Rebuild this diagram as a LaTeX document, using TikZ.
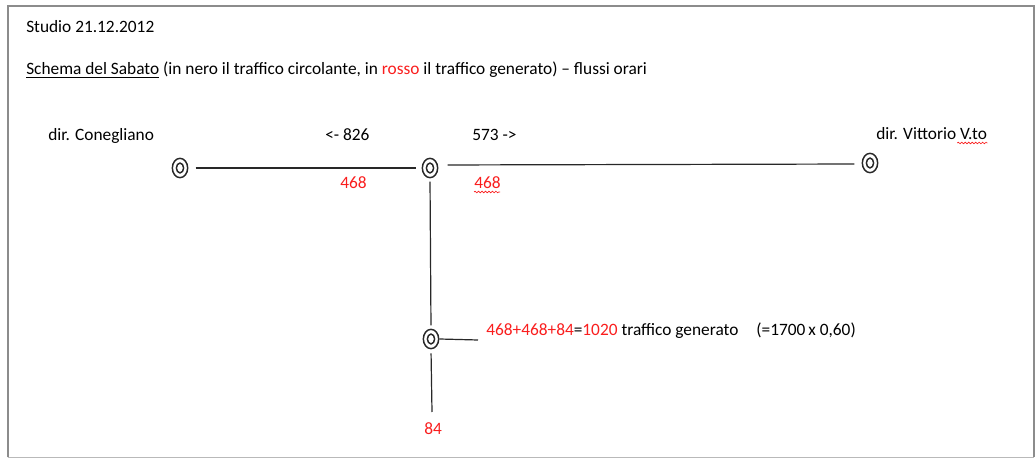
\documentclass[tikz,border=0pt]{standalone}
\usepackage{fontspec}
\setmainfont{Carlito}
\usetikzlibrary{shapes.geometric,decorations.pathmorphing,calc}
\definecolor{rosso}{RGB}{250,30,30}
\definecolor{framegray}{RGB}{140,140,140}
\definecolor{framelight}{RGB}{185,185,185}
\definecolor{inkline}{RGB}{40,40,40}
\begin{document}
\begin{tikzpicture}[x=0.75pt,y=-0.75pt,
  txt/.style={anchor=base west,inner sep=0pt,font=\fontsize{13}{15}\selectfont,text=black},
  red/.style={txt,text=rosso},
  ring/.style={ellipse,draw=inkline,line width=1.1pt,minimum width=11.5pt,minimum height=14.5pt,inner sep=0pt,
    path picture={\draw[inkline,line width=1.1pt] (path picture bounding box.center) ellipse (2.7pt and 3.7pt);}},
  road/.style={draw=inkline,line width=0.9pt},
  squiggle/.style={draw=rosso,line width=0.5pt,decorate,decoration={snake,amplitude=0.6pt,segment length=2.6pt}}]
\useasboundingbox (0,0) rectangle (1036,459);
\fill[white] (0,0) rectangle (1036,459);
% frame
\draw[framegray,line width=1.5pt] (7.5,457.5) -- (7.5,5.7) -- (1033.7,5.7) -- (1033.7,457.5);
\draw[framelight,line width=0.8pt] (7.5,457.7) -- (1033.7,457.7);
% header texts
\node[txt] (title) at (26,33) {Studio 21.12.2012};
\node[txt] (schema) at (26,75) {\underline{Schema del Sabato} (in nero il traffico circolante, in \textcolor{rosso}{rosso} il traffico generato) – flussi orari};
% labels
\node[txt] (lcon) at (48,141) {dir. Conegliano};
\node[txt] (l826) at (325,141) {<- 826};
\node[txt] (l573) at (472,141) {573 ->};
\node[txt] (lvit) at (876,140) {dir. Vittorio V.to};
\node[red] (r468a) at (340,189) {468};
\node[red] (r468b) at (474,189) {468};
\node[txt] (lgen) at (486,336) {\textcolor{rosso}{468+468+84}=\textcolor{rosso}{1020} traffico generato\hspace{1.04em}(=1700\,x 0,60)};
\node[red] (r84) at (424,435) {84};
% spell-check squiggles
\draw[squiggle] (lvit.base east) ++(-30,3) -- ++(30,0);
\draw[squiggle] (r468b.base west) ++(0,3) -- ++(26,0);
% nodes
\node[ring] (A) at (180,168) {};
\node[ring] (B) at (430,168) {};
\node[ring] (C) at (870,163) {};
\node[ring] (D) at (431,339) {};
\coordinate (stub) at (478,340);
\coordinate (south) at (432,412);
% roads
\path[road,shorten <=5.5pt,shorten >=4pt] (A.east) -- (B.west);
\path[road,shorten <=7pt,shorten >=5.5pt] ($(B.east)+(0,-3)$) -- ($(C.west)+(0,1)$);
\path[road,shorten <=2.5pt,shorten >=2.5pt] (B.south) -- (D.north);
\path[road] (D.east) -- (stub);
\path[road,shorten <=3pt] (D.south) -- (south);
\end{tikzpicture}
\end{document}
